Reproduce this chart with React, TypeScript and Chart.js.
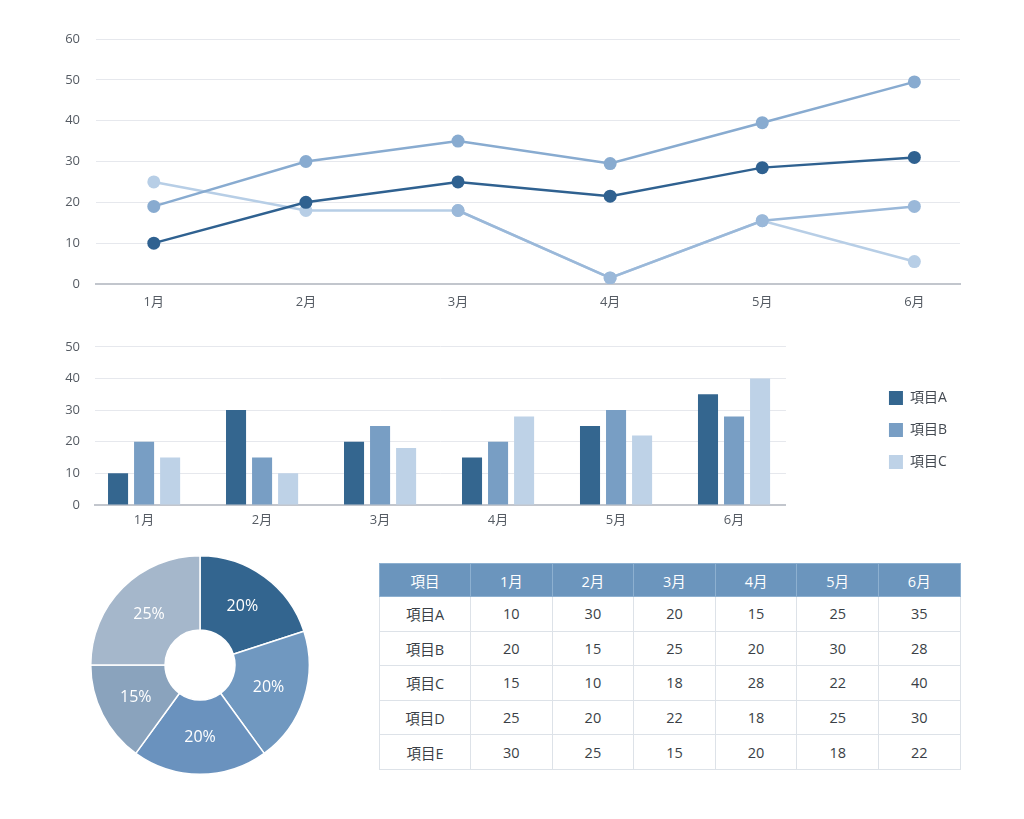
import React, { useEffect, useRef } from 'react';
import { Chart, registerables } from 'chart.js';

Chart.register(...registerables);

const FONT = "'Open Sans', 'Noto Sans CJK JP', sans-serif";

// ---- data ----
const months = ['1月', '2月', '3月', '4月', '5月', '6月'];

// line chart series
const lineA = [10, 20, 25, 21.5, 28.5, 31];
const lineB = [19, 30, 35, 29.5, 39.5, 49.5];
const lineC = [25, 18, 18, 1.5, 15.5, 5.5];
const lineD = [null, null, 18, 1.5, 15.5, 19];
const lineYTicks = [0, 10, 20, 30, 40, 50, 60];

// bar chart / table series
const itemNames = ['項目A', '項目B', '項目C', '項目D', '項目E'];
const itemA = [10, 30, 20, 15, 25, 35];
const itemB = [20, 15, 25, 20, 30, 28];
const itemC = [15, 10, 18, 28, 22, 40];
const itemD = [25, 20, 22, 18, 25, 30];
const itemE = [30, 25, 15, 20, 18, 22];
const barYTicks = [0, 10, 20, 30, 40, 50];

// doughnut
const pieValues = [20, 20, 20, 15, 25];
const pieColors = ['#33658f', '#7098c0', '#6a92be', '#8aa3bd', '#a5b7cb'];

const tableHeader = '項目';

// colors
const C_DARK = '#2f6190';
const C_MED = '#88abd0';
const C_LIGHT = '#b7cee6';
const C_MED2 = '#9ab8d9';
const BAR_A = '#34668f';
const BAR_B = '#789ec4';
const BAR_C = '#bed2e7';

const tickFont = { family: FONT, size: 13 };
const tickColor = '#555b63';

const toXY = (arr: (number | null)[]) => arr.map((v, i) => ({ x: i, y: v }));

const pieLabelPlugin = {
  id: 'pieLabels',
  afterDatasetsDraw(chart: any) {
    const ctx = chart.ctx;
    const meta = chart.getDatasetMeta(0);
    meta.data.forEach((arc: any, i: number) => {
      const p = arc.tooltipPosition(false);
      ctx.save();
      ctx.fillStyle = '#ffffff';
      ctx.font = `16px ${FONT}`;
      ctx.textAlign = 'center';
      ctx.textBaseline = 'middle';
      ctx.fillText(pieValues[i] + '%', p.x, p.y);
      ctx.restore();
    });
  },
};

export default function App() {
  const lineRef = useRef<HTMLCanvasElement>(null);
  const barRef = useRef<HTMLCanvasElement>(null);
  const pieRef = useRef<HTMLCanvasElement>(null);

  useEffect(() => {
    const monthTicks = (axis: any) => {
      axis.ticks = months.map((_, i) => ({ value: i }));
    };

    const mkLine = (label: string, data: (number | null)[], color: string) => ({
      label,
      data: toXY(data),
      borderColor: color,
      backgroundColor: color,
      pointBackgroundColor: color,
      pointBorderColor: color,
      pointRadius: 6.5,
      pointBorderWidth: 0,
      borderWidth: 2.5,
      tension: 0,
      spanGaps: false,
    });

    const line = new Chart(lineRef.current!, {
      type: 'line',
      data: {
        datasets: [
          mkLine('A', lineA, C_DARK),
          mkLine('B', lineB, C_MED),
          mkLine('D', lineD, C_MED2),
          mkLine('C', lineC, C_LIGHT),
        ] as any,
      },
      options: {
        animation: false,
        responsive: false,
        layout: { padding: { top: 39, right: 64, left: 0, bottom: 0 } },
        plugins: { legend: { display: false }, tooltip: { enabled: false } },
        scales: {
          x: {
            type: 'linear',
            min: -0.38,
            max: 5.3,
            offset: false,
            afterBuildTicks: monthTicks,
            afterFit: (s: any) => {
              s.height = 46;
            },
            ticks: {
              callback: (v: any) => months[v],
              font: tickFont,
              color: tickColor,
              padding: 10,
              autoSkip: false,
              maxRotation: 0,
            },
            grid: { display: false, drawTicks: false },
            border: { display: true, color: '#c2c6cd', width: 2 },
          },
          y: {
            min: 0,
            max: 60,
            afterBuildTicks: (axis: any) => {
              axis.ticks = lineYTicks.map((v) => ({ value: v }));
            },
            afterFit: (s: any) => {
              s.width = 96;
            },
            ticks: { font: tickFont, color: tickColor, padding: 16 },
            grid: { color: '#e6e8ed', drawTicks: false },
            border: { display: false },
          },
        },
      } as any,
    });

    const bar = new Chart(barRef.current!, {
      type: 'bar',
      data: {
        datasets: [
          { label: itemNames[0], data: toXY(itemA), backgroundColor: BAR_A, borderColor: BAR_A },
          { label: itemNames[1], data: toXY(itemB), backgroundColor: BAR_B, borderColor: BAR_B },
          { label: itemNames[2], data: toXY(itemC), backgroundColor: BAR_C, borderColor: BAR_C },
        ].map((d) => ({ ...d, categoryPercentage: 0.662, barPercentage: 0.77, borderWidth: 0 })) as any,
      },
      options: {
        animation: false,
        responsive: false,
        layout: { padding: { top: 16, right: 67, left: 0, bottom: 0 } },
        plugins: {
          tooltip: { enabled: false },
          legend: {
            position: 'right',
            align: 'start',
            title: { display: true, text: ' ', padding: 10.5, font: { size: 10 } },
            labels: {
              boxWidth: 14,
              boxHeight: 14,
              padding: 18,
              font: { family: FONT, size: 14 },
              color: '#444a52',
            },
          },
        },
        scales: {
          x: {
            type: 'linear',
            min: -0.416,
            max: 5.44,
            offset: false,
            afterBuildTicks: monthTicks,
            afterFit: (s: any) => {
              s.height = 35;
            },
            ticks: {
              callback: (v: any) => months[v],
              font: tickFont,
              color: tickColor,
              padding: 7,
              autoSkip: false,
              maxRotation: 0,
            },
            grid: { display: false, drawTicks: false, offset: false },
            border: { display: true, color: '#c2c6cd', width: 2 },
          },
          y: {
            min: 0,
            max: 50,
            afterBuildTicks: (axis: any) => {
              axis.ticks = barYTicks.map((v) => ({ value: v }));
            },
            afterFit: (s: any) => {
              s.width = 95;
            },
            ticks: { font: tickFont, color: tickColor, padding: 15 },
            grid: { color: '#e6e8ed', drawTicks: false },
            border: { display: false },
          },
          gap: {
            position: 'right',
            display: true,
            grid: { display: false, drawTicks: false },
            border: { display: false },
            ticks: { display: false },
            afterFit: (s: any) => {
              s.width = 85;
            },
          },
        },
      } as any,
    });

    const pie = new Chart(pieRef.current!, {
      type: 'doughnut',
      data: {
        labels: itemNames,
        datasets: [
          {
            data: pieValues,
            backgroundColor: pieColors,
            borderColor: '#ffffff',
            borderWidth: 1.5,
          },
        ],
      },
      options: {
        animation: false,
        responsive: false,
        cutout: '32%',
        layout: { padding: 10 },
        plugins: { legend: { display: false }, tooltip: { enabled: false } },
      } as any,
      plugins: [pieLabelPlugin],
    });

    return () => {
      line.destroy();
      bar.destroy();
      pie.destroy();
    };
  }, []);

  const rows = [itemA, itemB, itemC, itemD, itemE];
  const cellBase: React.CSSProperties = {
    border: '1px solid #dde2e8',
    textAlign: 'center',
    padding: 0,
  };

  return (
    <div
      style={{
        position: 'absolute',
        left: 0,
        top: 0,
        width: 1024,
        height: 819,
        background: '#ffffff',
        fontFamily: FONT,
      }}
    >
      <canvas
        ref={lineRef}
        width={1024}
        height={330}
        style={{ position: 'absolute', left: 0, top: 0, width: 1024, height: 330 }}
      />
      <canvas
        ref={barRef}
        width={1024}
        height={216}
        style={{ position: 'absolute', left: 0, top: 324, width: 1024, height: 216 }}
      />
      <canvas
        ref={pieRef}
        width={240}
        height={240}
        style={{ position: 'absolute', left: 80, top: 545, width: 240, height: 240 }}
      />
      <table
        style={{
          position: 'absolute',
          left: 379,
          top: 563,
          width: 581,
          borderCollapse: 'collapse',
          tableLayout: 'fixed',
          fontSize: 14.5,
          color: '#3a3f46',
        }}
      >
        <colgroup>
          <col style={{ width: 91 }} />
          {months.map((m) => (
            <col key={m} style={{ width: 81.6 }} />
          ))}
        </colgroup>
        <thead>
          <tr style={{ height: 33 }}>
            {[tableHeader, ...months].map((h) => (
              <th
                key={h}
                style={{
                  ...cellBase,
                  background: '#6b95bd',
                  color: '#ffffff',
                  fontWeight: 'normal',
                  border: '1px solid #8db0d0',
                }}
              >
                {h}
              </th>
            ))}
          </tr>
        </thead>
        <tbody>
          {rows.map((r, ri) => (
            <tr key={ri} style={{ height: 34.6 }}>
              <td style={cellBase}>{itemNames[ri]}</td>
              {r.map((v, ci) => (
                <td key={ci} style={cellBase}>
                  {v}
                </td>
              ))}
            </tr>
          ))}
        </tbody>
      </table>
    </div>
  );
}
